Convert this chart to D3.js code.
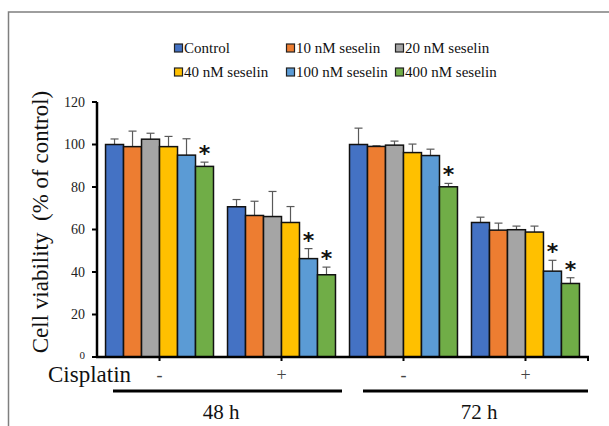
<!DOCTYPE html>
<html lang="en">
  <head>
    <meta charset="UTF-8" />
    <title>Cell viability - cisplatin + seselin</title>
    <script src="https://d3js.org/d3.v7.min.js"></script>
    <style>
      body {
        margin: 0;
        background: #fff;
      }
      #chart svg {
        display: block;
      }
    </style>
  </head>
  <body>
    <div id="chart"></div>

    <script>
      // Données
      const groups = ["48h -", "48h +", "72h -", "72h +"];
      const cisplatinLabels = ["-", "+", "-", "+"];
      const timeLabels = ["48 h", "72 h"];
      const series = [
        "Control",
        "10 nM seselin",
        "20 nM seselin",
        "40 nM seselin",
        "100 nM seselin",
        "400 nM seselin",
      ];
      const colors = ["#4472C4", "#ED7D31", "#A5A5A5", "#FFC000", "#5B9BD5", "#70AD47"];

      // valeurs par groupe (une ligne par groupe, une colonne par série)
      const values = [
        [100, 99, 102.5, 99, 95, 89.7],
        [70.7, 66.6, 66.1, 63.3, 46.3, 38.7],
        [100, 99.1, 99.7, 96.2, 94.8, 80.1],
        [63.3, 59.7, 59.9, 58.8, 40.4, 34.6],
      ];
      const errors = [
        [2.6, 7.3, 2.8, 4.8, 7.7, 2],
        [3.4, 6.7, 11.8, 7.5, 4.7, 3.6],
        [7.7, 0.3, 1.9, 4, 3, 1.6],
        [2.5, 3.3, 1.7, 2.8, 5.1, 2.7],
      ];
      const signif = [
        [0, 0, 0, 0, 0, 1],
        [0, 0, 0, 0, 1, 1],
        [0, 0, 0, 0, 0, 1],
        [0, 0, 0, 0, 1, 1],
      ];
      const yTicks = [0, 20, 40, 60, 80, 100, 120];

      const width = 609,
        height = 426;
      const serif = "'Liberation Serif', 'Times New Roman', serif";

      const svg = d3
        .select("#chart")
        .append("svg")
        .attr("width", width)
        .attr("height", height);

      // cadre gris (haut + gauche)
      svg
        .append("path")
        .attr("d", `M8.5,${height} V12 H${width}`)
        .attr("fill", "none")
        .attr("stroke", "#7f7f7f")
        .attr("stroke-width", 1.5);

      // Echelles
      const plotLeft = 97,
        plotRight = 588;
      const y = d3.scaleLinear().domain([0, 120]).range([357, 102]);
      const x0 = d3
        .scaleBand()
        .domain(groups)
        .range([plotLeft, plotRight])
        .paddingInner(0.115)
        .paddingOuter(0.07);
      const x1 = d3
        .scaleBand()
        .domain(series)
        .range([0, x0.bandwidth()]);

      // Barres
      const rows = [];
      groups.forEach((g, gi) => {
        series.forEach((s, si) => {
          rows.push({
            g,
            s,
            si,
            v: values[gi][si],
            e: errors[gi][si],
            star: signif[gi][si],
          });
        });
      });

      // barres d'erreur (derrière les barres)
      const err = svg.append("g").attr("stroke", "#595959").attr("stroke-width", 1.2);
      rows.forEach((d) => {
        const cx = x0(d.g) + x1(d.s) + x1.bandwidth() / 2;
        err
          .append("line")
          .attr("x1", cx)
          .attr("x2", cx)
          .attr("y1", y(d.v))
          .attr("y2", y(d.v + d.e));
        err
          .append("line")
          .attr("x1", cx - 4)
          .attr("x2", cx + 4)
          .attr("y1", y(d.v + d.e))
          .attr("y2", y(d.v + d.e));
      });

      svg
        .append("g")
        .selectAll("rect")
        .data(rows)
        .join("rect")
        .attr("x", (d) => x0(d.g) + x1(d.s))
        .attr("y", (d) => y(d.v))
        .attr("width", x1.bandwidth())
        .attr("height", (d) => y(0) - y(d.v))
        .attr("fill", (d) => colors[d.si])
        .attr("stroke", "#111")
        .attr("stroke-width", 1.5);

      // astérisques
      svg
        .append("g")
        .selectAll("text")
        .data(rows.filter((d) => d.star))
        .join("text")
        .attr("x", (d) => x0(d.g) + x1(d.s) + x1.bandwidth() / 2)
        .attr("y", (d) => y(d.v + d.e) - 1)
        .attr("text-anchor", "middle")
        .style("font-family", "'DejaVu Sans', sans-serif")
        .style("font-weight", "bold")
        .style("font-size", "22px")
        .attr("fill", "#111")
        .text("*");

      // Axe Y
      const yAxis = svg.append("g");
      yAxis
        .append("line")
        .attr("x1", plotLeft)
        .attr("x2", plotLeft)
        .attr("y1", y(120))
        .attr("y2", y(0) + 1)
        .attr("stroke", "#000")
        .attr("stroke-width", 2.5);
      yTicks.forEach((t) => {
        yAxis
          .append("line")
          .attr("x1", plotLeft - 5)
          .attr("x2", plotLeft)
          .attr("y1", y(t))
          .attr("y2", y(t))
          .attr("stroke", "#000")
          .attr("stroke-width", 2);
        yAxis
          .append("text")
          .attr("x", plotLeft - 12)
          .attr("y", y(t))
          .attr("dy", t === 0 ? "0.2em" : "0.35em")
          .attr("text-anchor", "end")
          .style("font-family", serif)
          .style("font-size", t === 0 ? "11px" : "14px")
          .attr("fill", "#222")
          .text(t);
      });

      // Axe X
      svg
        .append("line")
        .attr("x1", plotLeft - 1)
        .attr("x2", plotRight + 1)
        .attr("y1", y(0))
        .attr("y2", y(0))
        .attr("stroke", "#000")
        .attr("stroke-width", 2.5);
      groups.forEach((g) => {
        const cx = x0(g) + x0.bandwidth() / 2;
        svg
          .append("line")
          .attr("x1", cx)
          .attr("x2", cx)
          .attr("y1", y(0))
          .attr("y2", y(0) + 4)
          .attr("stroke", "#000")
          .attr("stroke-width", 2);
      });
      svg
        .append("line")
        .attr("x1", plotRight)
        .attr("x2", plotRight)
        .attr("y1", y(0))
        .attr("y2", y(0) + 4)
        .attr("stroke", "#000")
        .attr("stroke-width", 2);

      // Cisplatin - / +
      svg
        .append("text")
        .attr("x", 48)
        .attr("y", 382)
        .style("font-family", serif)
        .style("font-size", "23px")
        .attr("fill", "#111")
        .text("Cisplatin");
      groups.forEach((g, gi) => {
        svg
          .append("text")
          .attr("x", x0(g) + x0.bandwidth() / 2)
          .attr("y", 381)
          .attr("text-anchor", "middle")
          .style("font-family", serif)
          .style("font-size", "18px")
          .attr("fill", "#444")
          .text(cisplatinLabels[gi]);
      });

      // Lignes 48 h / 72 h
      const spans = [
        [113, 342],
        [363, 588],
      ];
      const timeLabelX = [221, 479];
      spans.forEach((sp, i) => {
        svg
          .append("line")
          .attr("x1", sp[0])
          .attr("x2", sp[1])
          .attr("y1", 391)
          .attr("y2", 391)
          .attr("stroke", "#000")
          .attr("stroke-width", 3);
        svg
          .append("text")
          .attr("x", timeLabelX[i])
          .attr("y", 419)
          .attr("text-anchor", "middle")
          .style("font-family", serif)
          .style("font-size", "21px")
          .attr("fill", "#111")
          .text(timeLabels[i]);
      });

      // Titre axe Y
      svg
        .append("text")
        .attr("transform", `translate(48, 222) rotate(-90)`)
        .attr("text-anchor", "middle")
        .style("font-family", serif)
        .style("font-size", "23px")
        .attr("fill", "#111")
        .style("white-space", "pre")
        .attr("xml:space", "preserve")
        .text("Cell viability  (% of control)");

      // Légende
      const legendX = [174, 286, 395];
      const legendY = [48, 72];
      series.forEach((s, i) => {
        const lx = legendX[i % 3],
          ly = legendY[Math.floor(i / 3)];
        const item = svg.append("g").attr("transform", `translate(${lx},${ly})`);
        item
          .append("rect")
          .attr("x", 0.5)
          .attr("y", -4)
          .attr("width", 8)
          .attr("height", 8)
          .attr("fill", colors[i])
          .attr("stroke", "#222")
          .attr("stroke-width", 1.2);
        item
          .append("text")
          .attr("x", 10)
          .attr("y", 0)
          .attr("dy", "0.35em")
          .style("font-family", serif)
          .style("font-size", "15px")
          .attr("fill", "#111")
          .text(s);
      });
    </script>
  </body>
</html>
